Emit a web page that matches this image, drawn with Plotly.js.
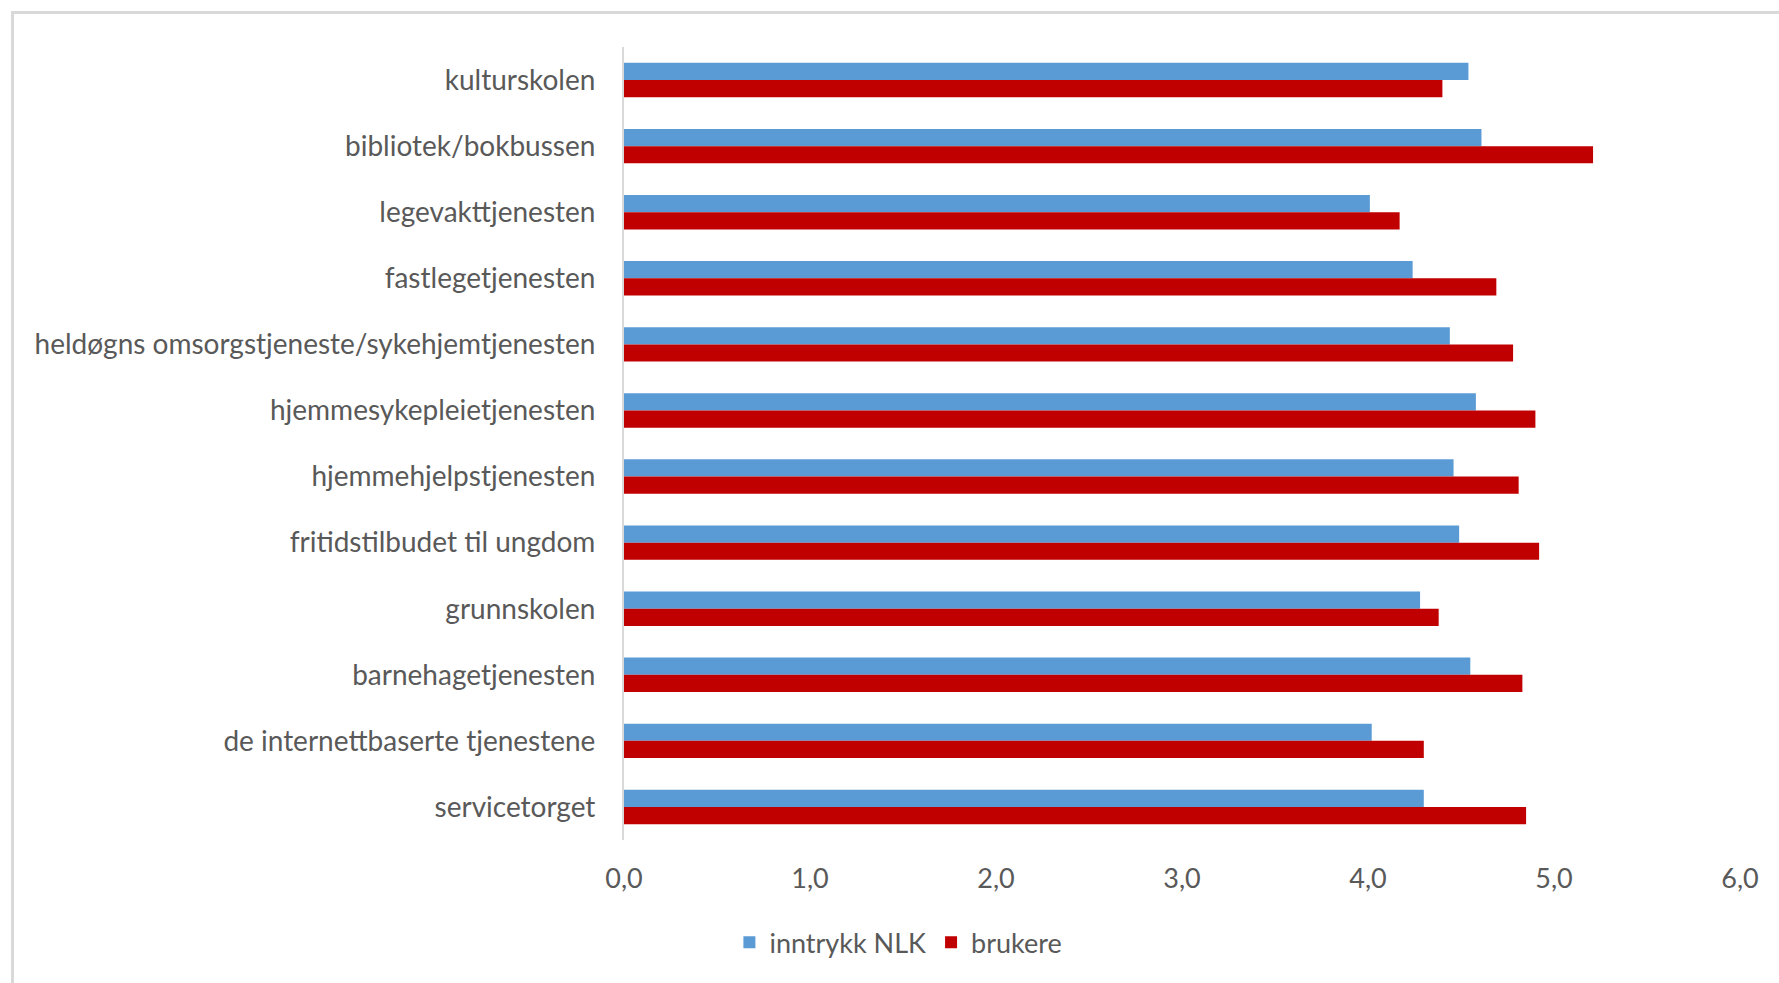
<!DOCTYPE html>
<html>
<head>
<meta charset="utf-8">
<script src="https://cdn.plot.ly/plotly-3.0.1.min.js"></script>
<style>
  html, body { margin: 0; padding: 0; background: #ffffff; overflow: hidden; }
  #wrap { position: relative; width: 1779px; height: 983px; }
  #chart { width: 1779px; height: 983px; }
  #frame { position: absolute; left: 11px; top: 11px; width: 1800px; height: 1000px;
           border: 3px solid #d9d9d9; pointer-events: none; box-sizing: border-box; }
</style>
</head>
<body>
<div id="wrap">
  <div id="chart"></div>
  <div id="frame"></div>
</div>
<script>
const categories = [
  "kulturskolen",
  "bibliotek/bokbussen",
  "legevakttjenesten",
  "fastlegetjenesten",
  "heldøgns omsorgstjeneste/sykehjemtjenesten",
  "hjemmesykepleietjenesten",
  "hjemmehjelpstjenesten",
  "fritidstilbudet til ungdom",
  "grunnskolen",
  "barnehagetjenesten",
  "de internettbaserte tjenestene",
  "servicetorget"
];
const inntrykkNLK = [4.54, 4.61, 4.01, 4.24, 4.44, 4.58, 4.46, 4.49, 4.28, 4.55, 4.02, 4.30];
const brukere     = [4.40, 5.21, 4.17, 4.69, 4.78, 4.90, 4.81, 4.92, 4.38, 4.83, 4.30, 4.85];
const xTicks = [0, 1, 2, 3, 4, 5, 6];

const FONT = "Lato, 'Open Sans', sans-serif";
const GREY = "#595959";

const traces = [
  {
    type: "bar", orientation: "h", name: "inntrykk NLK",
    y: categories, x: inntrykkNLK,
    marker: { color: "#5B9BD5", line: { width: 0 } },
    hoverinfo: "x+y+name"
  },
  {
    type: "bar", orientation: "h", name: "brukere",
    y: categories, x: brukere,
    marker: { color: "#C00000", line: { width: 0 } },
    hoverinfo: "x+y+name"
  }
];

const layout = {
  width: 1779, height: 983,
  paper_bgcolor: "#ffffff", plot_bgcolor: "#ffffff",
  separators: ", ",
  font: { family: FONT, size: 27, color: GREY },
  margin: { l: 624, r: 39, t: 47, b: 143, pad: 0 },
  barmode: "group",
  bargap: 0.48,
  bargroupgap: 0,
  showlegend: true,
  legend: {
    orientation: "h",
    xref: "container", yref: "container",
    x: 0.505, xanchor: "center",
    y: 0.041, yanchor: "middle",
    font: { family: FONT, size: 27, color: GREY },
    itemwidth: 30,
    traceorder: "normal"
  },
  xaxis: {
    range: [0, 6],
    tickvals: xTicks,
    tickformat: ".1f",
    showgrid: false,
    zeroline: false,
    showline: false,
    ticks: "",
    ticklabelstandoff: 20,
    tickfont: { family: FONT, size: 27, color: GREY },
    fixedrange: true
  },
  yaxis: {
    type: "category",
    autorange: "reversed",
    showgrid: false,
    zeroline: false,
    showline: true,
    linecolor: "#d9d9d9",
    linewidth: 2,
    ticks: "",
    ticklabelstandoff: 21,
    tickfont: { family: FONT, size: 28, color: GREY },
    fixedrange: true
  }
};

Plotly.newPlot("chart", traces, layout, { displayModeBar: false, staticPlot: false });
</script>
</body>
</html>
